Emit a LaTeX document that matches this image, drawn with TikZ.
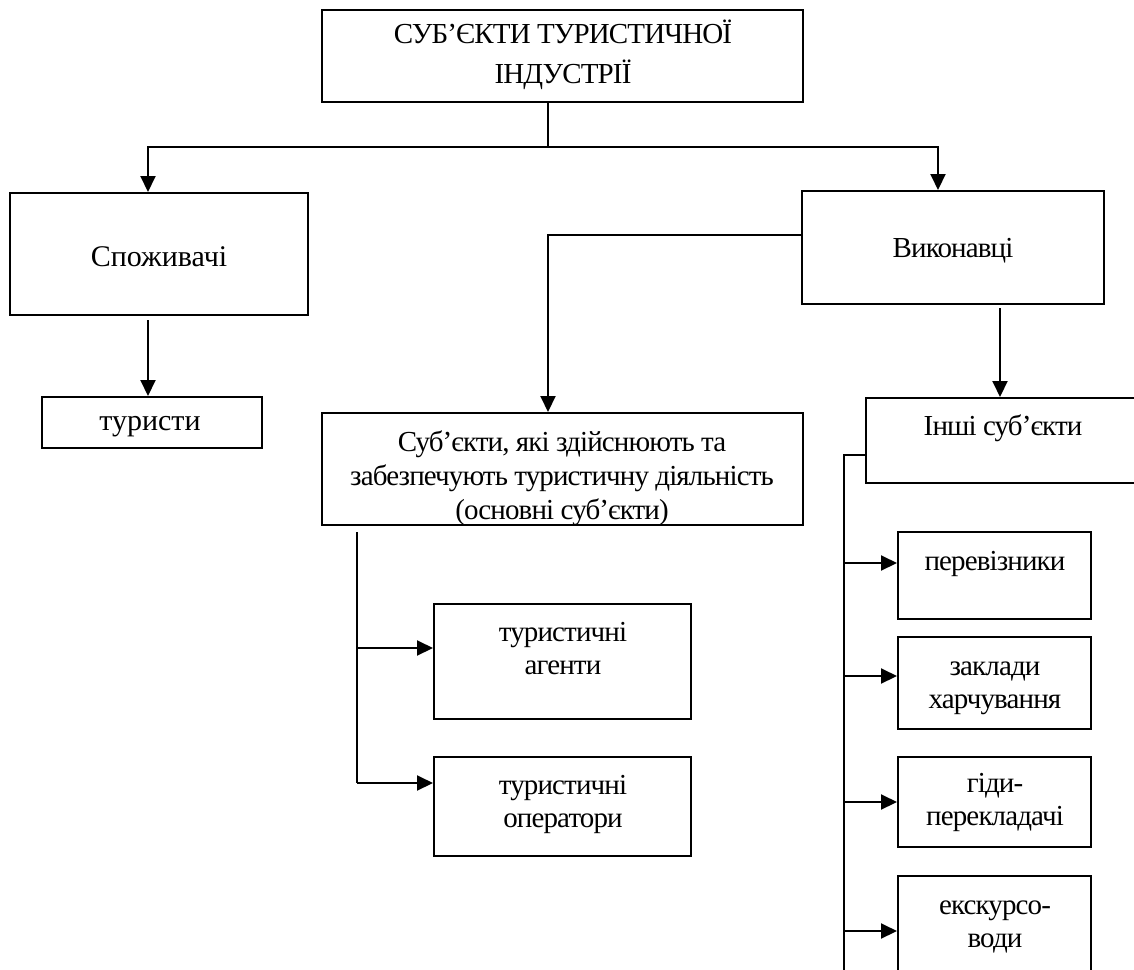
\documentclass[tikz,border=0pt]{standalone}
\usepackage{fontspec}
\setmainfont[LetterSpace=-3]{Liberation Serif}
\newfontfamily\widefont{Liberation Serif}
\usepackage{tikz}
\usetikzlibrary{arrows.meta,calc,fit}

\begin{document}
\begin{tikzpicture}[x=0.5pt, y=-0.5pt, line width=1pt,
    box/.style={draw, inner sep=0pt},
    txt/.style={align=center, inner sep=0pt, font=\fontsize{14.5}{16.5}\selectfont},
    arr/.style={-{Triangle[length=8pt,width=7.5pt]}},]
    \useasboundingbox (0,0) rectangle (1134,969);
    % texts
    \node [txt, font=\fontsize{14.5}{20}\selectfont] (topT) at (563,55) {СУБ’ЄКТИ ТУРИСТИЧНОЇ\\ІНДУСТРІЇ};
    \node [txt, font=\widefont\fontsize{15}{16.5}\selectfont] (spoT) at (159,257) {Споживачі};
    \node [txt, font=\widefont\fontsize{15}{16.5}\selectfont] (turT) at (150,427) {туристи};
    \node [txt] (vykT) at (953,251) {Виконавці};
    \node [txt, font=\fontsize{14.5}{17}\selectfont] (osnT) at (562,478) {Суб’єкти, які здійснюють та\\забезпечують туристичну діяльність\\(основні суб’єкти)};
    \node [txt] (inshT) at (1003,428) {Інші суб’єкти};
    \node [txt] (agtT) at (563,649) {туристичні\\агенти};
    \node [txt] (oprT) at (563,804) {туристичні\\оператори};
    \node [txt] (perT) at (995,564) {перевізники};
    \node [txt] (zakT) at (995,688) {заклади\\харчування};
    \node [txt] (gidT) at (995,802) {гіди-\\перекладачі};
    \node [txt] (eksT) at (995,927) {екскурсо-\\води};
    % boxes
    \node [box, fit={(322,10)(803,102)}] (top) {};
    \node [box, fit={(10,193)(308,315)}] (spo) {};
    \node [box, fit={(42,397)(262,448)}] (tur) {};
    \node [box, fit={(802,191)(1104,304)}] (vyk) {};
    \node [box, fit={(322,413)(803,525)}] (osn) {};
    \node [box, fit={(866,398)(1150,483)}] (insh) {};
    \node [box, fit={(434,604)(691,719)}] (agt) {};
    \node [box, fit={(434,757)(691,856)}] (opr) {};
    \node [box, fit={(898,532)(1091,619)}] (per) {};
    \node [box, fit={(898,637)(1091,729)}] (zak) {};
    \node [box, fit={(898,757)(1091,847)}] (gid) {};
    \node [box, fit={(898,876)(1091,990)}] (eks) {};
    % top level
    \coordinate (fork) at (548,147);
    \draw (fork |- top.south) -- (fork);
    \draw [arr] (fork) -| ($(spo.north)+(-11,0)$);
    \draw [arr] (fork) -| ($(vyk.north)+(-15,0)$);
    \coordinate (s1) at (148,320);
    \draw [arr] (s1) -- (s1 |- tur.north);
    \coordinate (v1) at (548,235);
    \draw [arr] (v1 -| vyk.west) -- (v1) -- (v1 |- osn.north);
    \coordinate (v2) at (1000,308);
    \draw [arr] (v2) -- (v2 |- insh.north);
    % main subjects
    \coordinate (o1) at (357,532);
    \coordinate (o2) at (357,648);
    \coordinate (o3) at (357,783);
    \draw (o1) -- (o3);
    \draw [arr] (o2) -- (o2 -| agt.west);
    \draw [arr] (o3) -- (o3 -| opr.west);
    % other subjects
    \coordinate (i1) at (844,455);
    \coordinate (i2) at (844,985);
    \draw (insh.west |- i1) -- (i1) -- (i2);
    \foreach \b/\y in {per/563,zak/676,gid/802,eks/931}{
      \coordinate (a\b) at (844,\y);
      \draw [arr] (a\b) -- (a\b -| \b.west);
    }
\end{tikzpicture}
\end{document}
